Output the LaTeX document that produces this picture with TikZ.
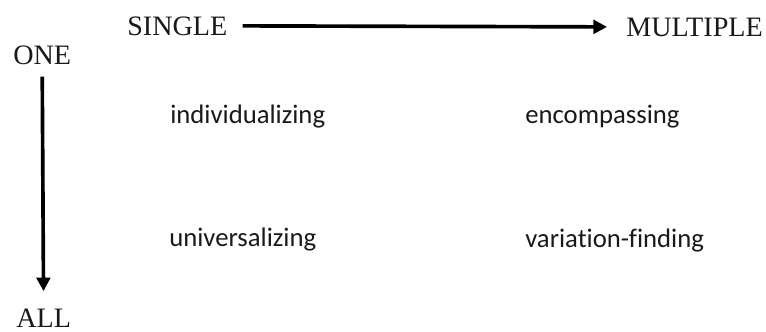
\documentclass[tikz,border=0pt]{standalone}
\usepackage{fontspec}
\usepackage{xcolor}
\usepackage{tikz}
\usetikzlibrary{arrows.meta}
\setmainfont{Liberation Serif}
\newfontfamily\labelfont[Ligatures=NoCommon]{Carlito}
\definecolor{axisblack}{RGB}{0, 0, 0}
\definecolor{textgray}{RGB}{25, 25, 25}

\begin{document}
\begin{tikzpicture}[
    axislabel/.style={inner sep=0pt, font=\fontsize{20}{24}\selectfont, text=textgray},
    celllabel/.style={inner sep=0pt, anchor=base west, font=\labelfont\fontsize{19}{23}\selectfont, text=textgray},
    axisarrow/.style={line width=2.6pt, axisblack, -{Triangle[length=0.34cm,width=0.34cm]}}
]
\useasboundingbox (0,0) rectangle (19.15,-8.275);
% axis ends
\node[axislabel, anchor=base west] (single) at (3.175,-0.875) {SINGLE};
\node[axislabel, anchor=base east] (multiple) at (19.075,-0.9) {MULTIPLE};
\node[axislabel, anchor=base west] (one) at (0.325,-1.6) {ONE};
\node[axislabel, anchor=base west] (all) at (0.4,-8.175) {ALL};
% the four kinds
\node[celllabel] (indiv) at (4.25,-3.075) {individualizing};
\node[celllabel] (encomp) at (13.125,-3.075) {encompassing};
\node[celllabel] (univ) at (4.225,-6.15) {universalizing};
\node[celllabel] (varfind) at (13.125,-6.175) {variation-finding};
% arrows
\draw[axisarrow, shorten <=0.375cm, shorten >=0.475cm] (single.east) -- (multiple.west);
\draw[axisarrow, shorten <=0.3cm, shorten >=0.425cm] (one.south) -- (all.north);
\end{tikzpicture}
\end{document}
